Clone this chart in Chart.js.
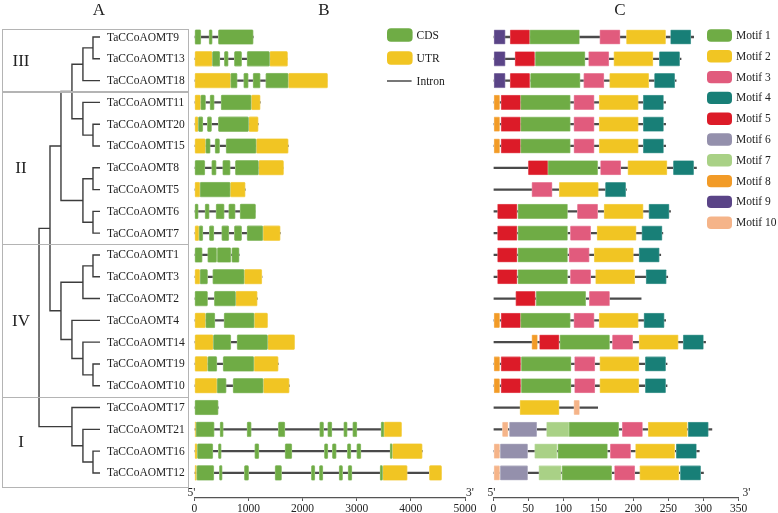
<!DOCTYPE html>
<html>
<head>
<meta charset="utf-8">
<script src="https://cdn.jsdelivr.net/npm/chart.js@4.4.1/dist/chart.umd.min.js"></script>
<style>
  html, body { margin: 0; padding: 0; background: #fff; }
  #wrap { position: relative; width: 778px; height: 513px; overflow: hidden; }
  #wrap canvas { position: absolute; left: 0; top: 0; }
</style>
</head>
<body>
<div id="wrap">
  <canvas id="treeChart" width="778" height="513"></canvas>
  <canvas id="geneChart" width="778" height="513"></canvas>
  <canvas id="motifChart" width="778" height="513"></canvas>
</div>
<script>
// ---- data ----
const genes = ['TaCCoAOMT9', 'TaCCoAOMT13', 'TaCCoAOMT18', 'TaCCoAOMT11', 'TaCCoAOMT20', 'TaCCoAOMT15',
  'TaCCoAOMT8', 'TaCCoAOMT5', 'TaCCoAOMT6', 'TaCCoAOMT7', 'TaCCoAOMT1', 'TaCCoAOMT3', 'TaCCoAOMT2',
  'TaCCoAOMT4', 'TaCCoAOMT14', 'TaCCoAOMT19', 'TaCCoAOMT10', 'TaCCoAOMT17', 'TaCCoAOMT21',
  'TaCCoAOMT16', 'TaCCoAOMT12'];

const treeNewick = '((((((TaCCoAOMT9:1.15,TaCCoAOMT13:1.15):1.65,TaCCoAOMT18:2.8):1.8,' +
  '(TaCCoAOMT11:2.8,(TaCCoAOMT20:1.15,TaCCoAOMT15:1.15):1.65):1.8):1.8,' +
  '((TaCCoAOMT8:1.15,TaCCoAOMT5:1.15):1.65,(TaCCoAOMT6:1.15,TaCCoAOMT7:1.15):1.65):3.6):1.8,' +
  '(((TaCCoAOMT1:1.15,TaCCoAOMT3:1.15):1.65,TaCCoAOMT2:2.8):3.6,' +
  '(TaCCoAOMT4:4.6,(TaCCoAOMT14:2.8,(TaCCoAOMT19:1.15,TaCCoAOMT10:1.15):1.65):1.8):1.8):1.8):1.8,' +
  '(TaCCoAOMT17:4.6,(TaCCoAOMT21:2.8,(TaCCoAOMT16:1.15,TaCCoAOMT12:1.15):1.65):1.8):5.4);';

const groupNames = ['III', 'II', 'IV', 'I'];
const groupFirstRow = [0, 3, 10, 17];
const groupLastRow = [2, 9, 16, 20];

// exon (CDS) and UTR pieces per gene, in bp
const cdsParts = [
  [[0, 123], [271, 333], [443, 1090]],
  [[333, 474], [554, 628], [739, 875], [973, 1392]],
  [[671, 794], [911, 998], [1084, 1219], [1318, 1737]],
  [[117, 209], [289, 369], [493, 1053]],
  [[74, 160], [240, 320], [443, 1004]],
  [[209, 296], [382, 468], [585, 1145]],
  [[0, 197], [320, 406], [523, 665], [757, 1188]],
  [[105, 665]],
  [[0, 74], [197, 277], [400, 554], [634, 757], [844, 1133]],
  [[86, 160], [277, 363], [505, 640], [739, 875], [973, 1269]],
  [[0, 148], [246, 413], [424, 677], [690, 830]],
  [[105, 246], [339, 924]],
  [[0, 246], [369, 764]],
  [[209, 382], [548, 1108]],
  [[351, 677], [788, 1355]],
  [[246, 419], [530, 1102]],
  [[419, 591], [714, 1275]],
  [[0, 443]],
  [[31, 369], [474, 536], [973, 1053], [1552, 1675], [2315, 2389], [2463, 2543], [2759, 2826], [2925, 3005], [3448, 3504]],
  [[55, 345], [443, 499], [1115, 1195], [1675, 1804], [2402, 2469], [2549, 2623], [2826, 2894], [2999, 3079], [3615, 3658]],
  [[43, 363], [462, 517], [924, 1004], [1490, 1613], [2161, 2229], [2309, 2377], [2673, 2740], [2839, 2913], [3430, 3479]]
];
const utrParts = [
  [],
  [[0, 333], [1392, 1724]],
  [[0, 671], [1737, 2463]],
  [[0, 117], [1053, 1219]],
  [[0, 74], [1004, 1182]],
  [[0, 209], [1145, 1737]],
  [[1188, 1650]],
  [[0, 105], [665, 942]],
  [],
  [[0, 86], [1269, 1589]],
  [],
  [[0, 105], [924, 1250]],
  [[764, 1164]],
  [[0, 209], [1108, 1355]],
  [[0, 351], [1355, 1854]],
  [[0, 246], [1102, 1552]],
  [[0, 419], [1275, 1755]],
  [],
  [[0, 31], [3504, 3830]],
  [[0, 55], [3658, 4212]],
  [[0, 43], [3479, 3935], [4341, 4569]]
];

// protein motifs (aa)
const motifNames = ['Motif 1', 'Motif 2', 'Motif 3', 'Motif 4', 'Motif 5', 'Motif 6', 'Motif 7', 'Motif 8', 'Motif 9', 'Motif 10'];
const motifWidth = [71, 56, 29, 29, 28, 39, 32, 8, 16, 8];
const _ = null;
const motifStart = [
  [52, 60, 53, 39, 39, 39, 78, _, 35, 35, 35, 35, 61, 39, 95, 40, 40, _, 108, 92, 98],
  [190, 172, 166, 151, 151, 151, 192, 94, 158, 148, 144, 146, _, 151, 208, 152, 152, 38, 221, 203, 209],
  [152, 136, 129, 115, 115, 115, 153, 55, 120, 110, 108, 110, 137, 115, 170, 116, 116, _, 184, 167, 173],
  [253, 237, 230, 214, 214, 214, 257, 160, 222, 212, 208, 218, _, 215, 271, 217, 217, _, 278, 261, 267],
  [24, 31, 24, 11, 11, 11, 50, _, 6, 6, 6, 6, 32, 11, 66, 11, 11, _, _, _, _],
  [_, _, _, _, _, _, _, _, _, _, _, _, _, _, _, _, _, _, 23, 10, 10],
  [_, _, _, _, _, _, _, _, _, _, _, _, _, _, _, _, _, _, 76, 59, 65],
  [_, _, _, 1, 1, 1, _, _, _, _, _, _, _, 1, 55, 1, 1, _, _, _, _],
  [1, 1, 1, _, _, _, _, _, _, _, _, _, _, _, _, _, _, _, _, _, _],
  [_, _, _, _, _, _, _, _, _, _, _, _, _, _, _, _, _, 115, 13, 1, 1]
];
const proteinLength = [286, 268, 261, 246, 246, 246, 290, 190, 253, 242, 239, 249, 211, 246, 303, 248, 248, 149, 312, 294, 300];

// ---- style ----
const SERIF = '"Liberation Serif", "Times New Roman", serif';
const motifColors = ['#6fac45', '#f1c523', '#e15b7d', '#187f77', '#dc1b28', '#9490ac', '#a9d186', '#f29b27', '#5a4487', '#f5b489'];
const cdsColor = '#6fac45';
const utrColor = '#f1c523';
const lineColor = '#4a4a4a';

Chart.defaults.font.family = SERIF;
Chart.defaults.color = '#222';

const rowMin = -0.5, rowMax = 21.15;
const rowScale = { type: 'linear', min: rowMin, max: rowMax, reverse: true, offset: false, display: false };

function lighten(hex, amt) {
  const n = parseInt(hex.slice(1), 16);
  const r = (n >> 16) & 255, g = (n >> 8) & 255, b = n & 255;
  const f = c => Math.round(c + (255 - c) * amt);
  return `rgb(${f(r)},${f(g)},${f(b)})`;
}

function rrect(ctx, x, y, w, h, r) {
  ctx.beginPath();
  if (ctx.roundRect) ctx.roundRect(x, y, w, h, r);
  else ctx.rect(x, y, w, h);
  ctx.fill();
}

// ---- tree ----
function parseNewick(s) {
  let i = 0;
  function node() {
    const n = { children: [], name: '', len: 0 };
    if (s[i] === '(') {
      i++;
      n.children.push(node());
      while (s[i] === ',') { i++; n.children.push(node()); }
      i++;
    }
    while (i < s.length && !',():;'.includes(s[i])) n.name += s[i++];
    if (s[i] === ':') {
      i++;
      let num = '';
      while (i < s.length && !',();'.includes(s[i])) num += s[i++];
      n.len = parseFloat(num);
    }
    return n;
  }
  return node();
}

function place(n, depth) {
  n.x = depth + n.len;
  if (!n.children.length) { n.y = genes.indexOf(n.name); return; }
  n.children.forEach(c => place(c, n.x));
  n.y = (n.children[0].y + n.children[n.children.length - 1].y) / 2;
}

const treeRoot = parseNewick(treeNewick);
place(treeRoot, 0);
let leafDepth = 0;
const branchPts = [];
(function walk(n) {
  if (!n.children.length) leafDepth = Math.max(leafDepth, n.x);
  n.children.forEach(c => {
    branchPts.push({ x: n.x, y: n.y }, { x: n.x, y: c.y }, { x: c.x, y: c.y }, { x: null, y: null });
    walk(c);
  });
})(treeRoot);

function panelTitle(id, text, cx) {
  return {
    id,
    afterDraw(chart) {
      const ctx = chart.ctx;
      ctx.save();
      ctx.font = '17px ' + SERIF;
      ctx.fillStyle = '#222';
      ctx.textAlign = 'center';
      ctx.textBaseline = 'alphabetic';
      ctx.fillText(text, cx, 15);
      ctx.restore();
    }
  };
}

const treeDecor = {
  id: 'treeDecor',
  afterDatasetsDraw(chart) {
    const { ctx, chartArea: a, scales: { x, y } } = chart;
    ctx.save();
    groupNames.forEach((g, k) => {
      const top = y.getPixelForValue(groupFirstRow[k] - (k === 0 ? 0.37 : 0.5));
      const bot = y.getPixelForValue(groupLastRow[k] + (k === groupNames.length - 1 ? 0.65 : 0.5));
      ctx.strokeStyle = '#b4b4b4';
      ctx.lineWidth = 1;
      ctx.strokeRect(Math.round(a.left) + 0.5, Math.round(top) + 0.5, Math.round(a.right - a.left), Math.round(bot - top));
      ctx.font = '17px ' + SERIF;
      ctx.fillStyle = '#222';
      ctx.textAlign = 'center';
      ctx.textBaseline = 'middle';
      ctx.fillText(g, a.left + 19, (top + bot) / 2 + 1);
    });
    ctx.font = '11.5px ' + SERIF;
    ctx.textAlign = 'left';
    ctx.textBaseline = 'middle';
    ctx.fillStyle = '#222';
    const lx = x.getPixelForValue(leafDepth) + 7;
    genes.forEach((g, i) => ctx.fillText(g, lx, y.getPixelForValue(i) + 0.5));
    ctx.restore();
  }
};

new Chart(document.getElementById('treeChart'), {
  type: 'scatter',
  data: {
    datasets: [{
      data: branchPts,
      showLine: true,
      spanGaps: false,
      borderColor: '#3c3c3c',
      borderWidth: 1.4,
      pointRadius: 0,
      borderJoinStyle: 'miter'
    }]
  },
  options: {
    responsive: false,
    animation: false,
    events: [],
    layout: { padding: { left: 2, right: 590, top: 26.1, bottom: 15 } },
    scales: {
      x: { type: 'linear', min: -6.07, max: 24.43, display: false },
      y: rowScale
    },
    plugins: { legend: { display: false }, tooltip: { enabled: false } }
  },
  plugins: [treeDecor, panelTitle('titleA', 'A', 99)]
});

// ---- shared bits for B and C ----
function endLabels(id, dl, dr) {
  return {
    id,
    afterDraw(chart) {
      const { ctx, chartArea: a } = chart;
      ctx.save();
      ctx.font = '11.5px ' + SERIF;
      ctx.fillStyle = '#222';
      ctx.textAlign = 'center';
      ctx.textBaseline = 'alphabetic';
      ctx.fillText("5'", a.left + dl, a.bottom - 2);
      ctx.fillText("3'", a.right + dr, a.bottom - 2);
      ctx.restore();
    }
  };
}

function sideLegend(id, left, firstY, stepY, boxW, boxH) {
  return {
    id,
    afterDraw(chart) {
      const ctx = chart.ctx;
      ctx.save();
      ctx.font = '11.5px ' + SERIF;
      ctx.textAlign = 'left';
      ctx.textBaseline = 'middle';
      chart.data.datasets.filter(d => d.inLegend).forEach((d, k) => {
        const cy = firstY + k * stepY;
        if (d.legendLine) {
          ctx.strokeStyle = d.backgroundColor;
          ctx.lineWidth = 1.5;
          ctx.beginPath();
          ctx.moveTo(left, cy);
          ctx.lineTo(left + boxW - 1, cy);
          ctx.stroke();
        } else {
          ctx.fillStyle = d.backgroundColor;
          rrect(ctx, left, cy - boxH / 2, boxW, boxH, 4);
        }
        ctx.fillStyle = '#222';
        ctx.fillText(d.label, left + boxW + 4, cy + 0.5);
      });
      ctx.restore();
    }
  };
}

function valueAxis(max, step) {
  return {
    type: 'linear',
    min: 0,
    max: max,
    position: 'bottom',
    afterFit: s => { s.height = 15; },
    grid: { drawOnChartArea: false, tickLength: 3, color: '#555', lineWidth: 1 },
    border: { color: '#555', width: 1.3 },
    ticks: {
      stepSize: step, autoSkip: false, maxRotation: 0, padding: 1, color: '#222',
      font: { size: 11.5, family: SERIF },
      callback: v => String(v)
    }
  };
}

function segmentBars(label, color, parts, thick) {
  const data = [];
  parts.forEach((list, i) => list.forEach(p => data.push({ x: p, y: i })));
  return {
    label,
    data,
    inLegend: true,
    grouped: false,
    barThickness: thick,
    backgroundColor: color,
    borderColor: lighten(color, 0.35),
    borderWidth: 0.8,
    borderSkipped: false,
    borderRadius: 1.5
  };
}

// ---- B: gene structure ----
const geneLength = genes.map((g, i) => Math.max(...cdsParts[i].concat(utrParts[i]).map(p => p[1])));

new Chart(document.getElementById('geneChart'), {
  type: 'bar',
  data: {
    datasets: [
      segmentBars('CDS', cdsColor, cdsParts, 15),
      segmentBars('UTR', utrColor, utrParts, 15),
      {
        label: 'Intron',
        data: geneLength.map((len, i) => ({ x: [0, len], y: i })),
        inLegend: true,
        legendLine: true,
        grouped: false,
        barThickness: 1.6,
        backgroundColor: lineColor,
        borderWidth: 0
      }
    ]
  },
  options: {
    indexAxis: 'y',
    responsive: false,
    animation: false,
    events: [],
    layout: { padding: { left: 194.3, right: 313, top: 26.1, bottom: 0 } },
    scales: { x: valueAxis(5000, 1000), y: rowScale },
    plugins: { legend: { display: false }, tooltip: { enabled: false } }
  },
  plugins: [endLabels('endsB', -3, 5), sideLegend('legendB', 387, 35, 23, 25.6, 13.4), panelTitle('titleB', 'B', 324)]
});

// ---- C: motifs ----
const motifSets = motifNames.map((name, m) => {
  const parts = genes.map((g, i) => motifStart[m][i] === null ? [] : [[motifStart[m][i], motifStart[m][i] + motifWidth[m]]]);
  const ds = segmentBars(name, motifColors[m], parts, 14.5);
  ds.borderRadius = 1;
  return ds;
});
motifSets.push({
  label: 'Protein',
  data: proteinLength.map((len, i) => ({ x: [0, len], y: i })),
  inLegend: false,
  grouped: false,
  barThickness: 1.6,
  backgroundColor: lineColor,
  borderWidth: 0
});

new Chart(document.getElementById('motifChart'), {
  type: 'bar',
  data: { datasets: motifSets },
  options: {
    indexAxis: 'y',
    responsive: false,
    animation: false,
    events: [],
    layout: { padding: { left: 493.3, right: 39.5, top: 26.1, bottom: 0 } },
    scales: { x: valueAxis(350, 50), y: rowScale },
    plugins: { legend: { display: false }, tooltip: { enabled: false } }
  },
  plugins: [endLabels('endsC', -2, 8), sideLegend('legendC', 707, 35.5, 20.8, 25, 12.4), panelTitle('titleC', 'C', 620)]
});
</script>
</body>
</html>
